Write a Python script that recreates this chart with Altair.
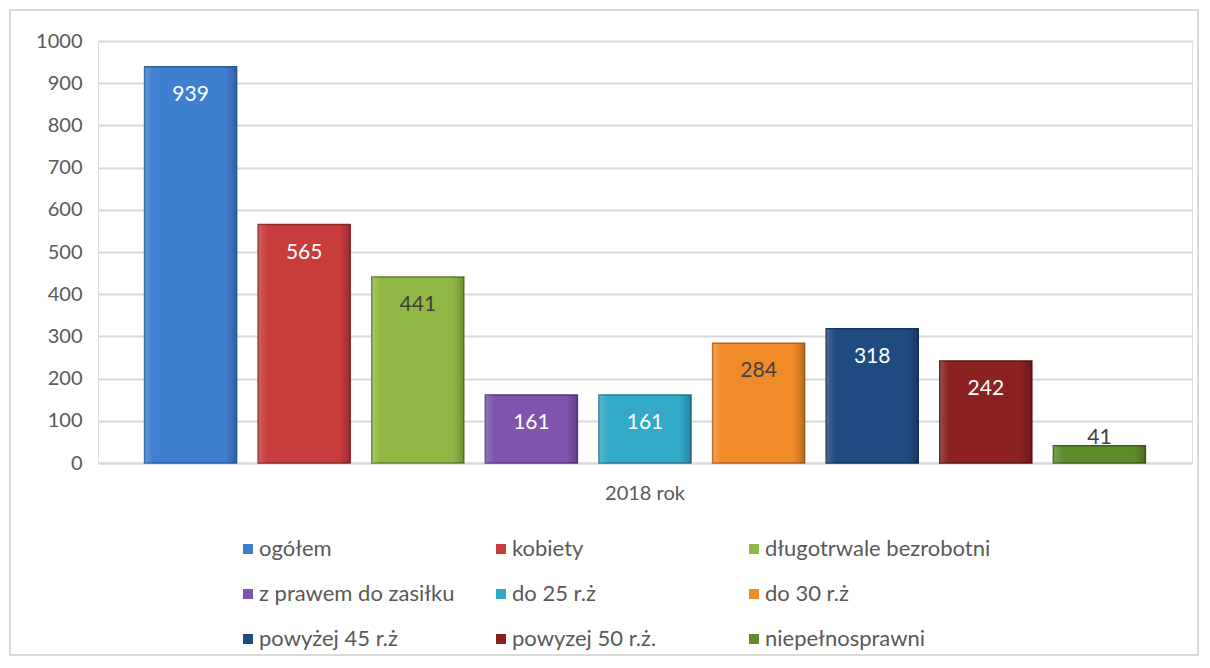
import altair as alt
import pandas as pd

categories = ["ogółem", "kobiety", "długotrwale bezrobotni", "z prawem do zasiłku",
              "do 25 r.ż", "do 30 r.ż", "powyżej 45 r.ż", "powyzej 50 r.ż.", "niepełnosprawni"]
values = [939, 565, 441, 161, 161, 284, 318, 242, 41]
year_label = "2018 rok"
fill_colors = ["#3E7FD0", "#C93C3C", "#8FB944", "#7D55AC", "#33A9C8",
               "#F08B2A", "#1F4B80", "#8B2121", "#5E8B2B"]
edge_colors = ["#2B5F9E", "#8E2626", "#637F2E", "#58397D", "#21788F",
               "#B3631B", "#13325A", "#5E1414", "#3F5E1C"]
dark_label_cats = ["długotrwale bezrobotni", "do 30 r.ż", "niepełnosprawni"]
y_ticks = [0, 100, 200, 300, 400, 500, 600, 700, 800, 900, 1000]

FONT = "Lato"
GRAY = "#595959"
GRID = "#D9D9D9"
W, H = 1094, 422

df = pd.DataFrame({"year": [year_label] * len(categories), "cat": categories, "value": values})

x_enc = alt.X("year:N", title=None,
              scale=alt.Scale(paddingInner=0, paddingOuter=0),
              axis=alt.Axis(labelAngle=0, ticks=False, domain=True, domainColor=GRID,
                            domainWidth=2, labelPadding=20, labelFontSize=20,
                            labelColor=GRAY, labelFont=FONT))
xo_enc = alt.XOffset("cat:N", sort=categories,
                     scale=alt.Scale(domain=categories, paddingInner=0.19, paddingOuter=0.41))
y_enc = alt.Y("value:Q", title=None, scale=alt.Scale(domain=[0, 1000], nice=False),
              axis=alt.Axis(values=y_ticks, format="d", domain=False, ticks=False,
                            labelPadding=16, labelFontSize=20, labelColor=GRAY,
                            labelFont=FONT, gridColor=GRID, gridWidth=2))

base = alt.Chart(df).encode(x=x_enc, xOffset=xo_enc, y=y_enc)

bars = base.mark_bar(strokeWidth=1.5).encode(
    color=alt.Color("cat:N", sort=categories,
                    scale=alt.Scale(domain=categories, range=fill_colors),
                    legend=alt.Legend(title=None, orient="none", legendX=139, legendY=497,
                                      direction="horizontal", columns=3, gridAlign="all",
                                      columnPadding=5, rowPadding=23, symbolType="square",
                                      symbolSize=100, symbolStrokeWidth=0, labelOffset=0,
                                      labelFontSize=22, labelColor=GRAY, labelFont=FONT,
                                      labelLimit=400)),
    stroke=alt.Stroke("cat:N", sort=categories,
                      scale=alt.Scale(domain=categories, range=edge_colors), legend=None),
)

bevel = base.mark_bar(
    color=alt.Gradient(gradient="linear", x1=0, x2=1, y1=0, y2=0,
                       stops=[alt.GradientStop(color="rgba(255,255,255,0.18)", offset=0),
                              alt.GradientStop(color="rgba(255,255,255,0)", offset=0.1),
                              alt.GradientStop(color="rgba(0,0,0,0)", offset=0.88),
                              alt.GradientStop(color="rgba(0,0,0,0.22)", offset=1)])
)

label_inside = base.transform_filter(alt.datum.value >= 100).mark_text(
    dy=28, baseline="middle", align="center", fontSize=21, font=FONT
).encode(
    text=alt.Text("value:Q"),
    color=alt.condition(alt.FieldOneOfPredicate(field="cat", oneOf=dark_label_cats),
                        alt.value("#404040"), alt.value("white")),
)

label_above = base.transform_filter(alt.datum.value < 100).mark_text(
    dy=-8, baseline="middle", align="center", fontSize=21, font=FONT, color="#404040"
).encode(text=alt.Text("value:Q"))

frame = alt.Chart(pd.DataFrame({"f": [0]})).mark_rect(
    fill=None, stroke=GRID, strokeWidth=2
).encode(x=alt.value(-88), x2=alt.value(1100), y=alt.value(-31), y2=alt.value(614))

chart = alt.layer(frame, bars, bevel, label_inside, label_above).properties(
    width=W, height=H,
    autosize=alt.AutoSizeParams(type="none"),
    padding={"left": 90, "top": 33, "right": 8, "bottom": 195},
).configure_view(stroke=None).configure(background="white")

chart.save("out.html", embed_options={"renderer": "svg", "actions": False})
